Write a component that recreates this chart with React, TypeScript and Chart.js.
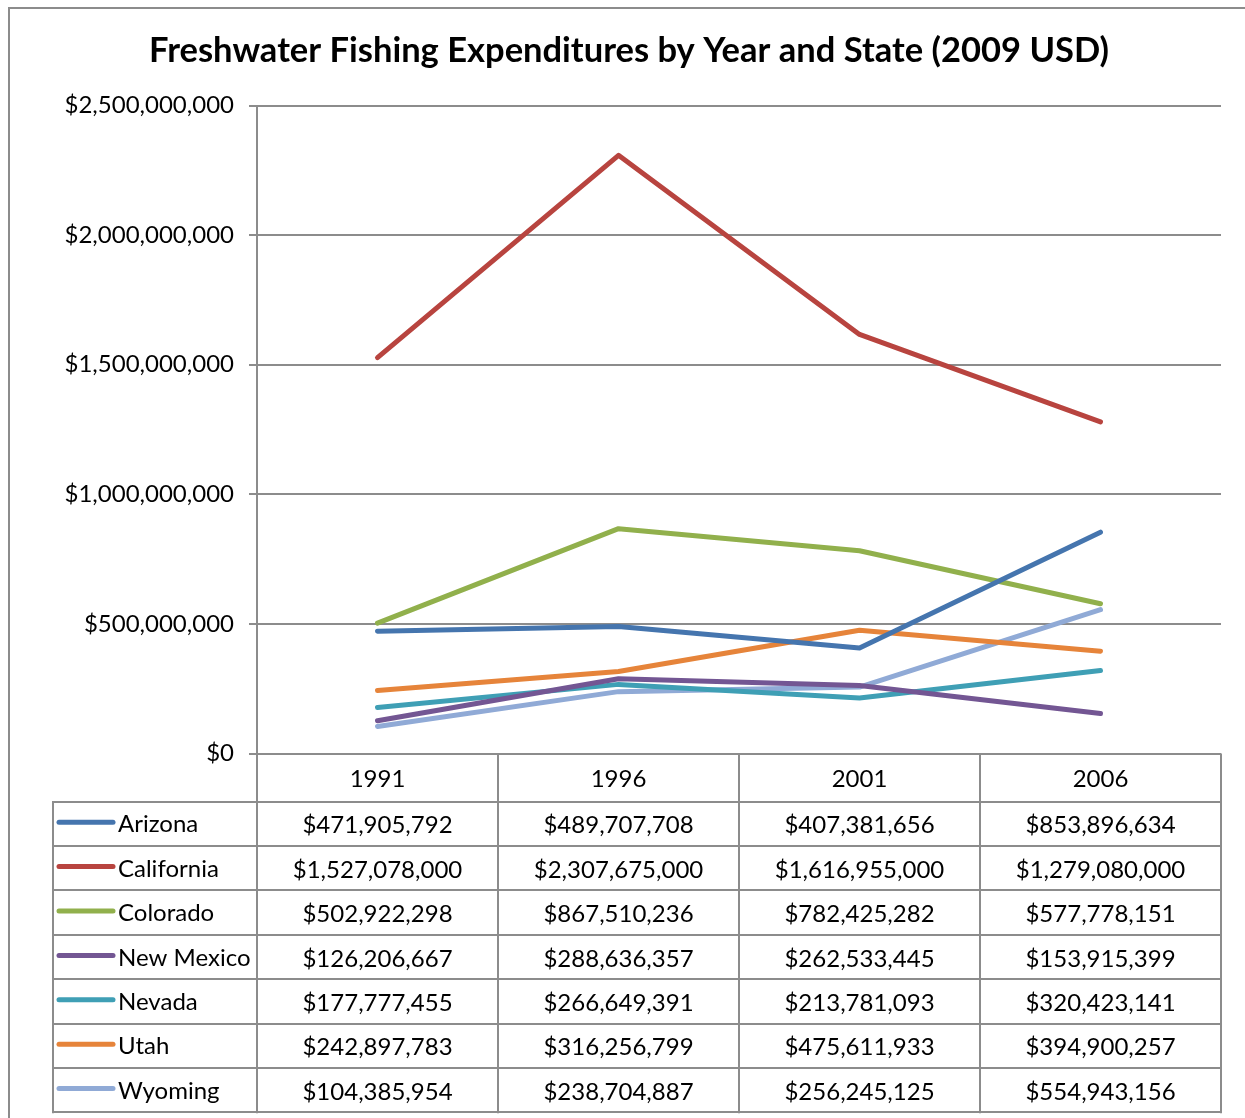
import React, { useEffect, useRef } from "react";
import { Chart, registerables } from "chart.js";

Chart.register(...registerables);

const TITLE = "Freshwater Fishing Expenditures by Year and State (2009 USD)";
const YEARS = ["1991", "1996", "2001", "2006"];
const STATES = ["Arizona", "California", "Colorado", "New Mexico", "Nevada", "Utah", "Wyoming"];
const ARIZONA = [471905792, 489707708, 407381656, 853896634];
const CALIFORNIA = [1527078000, 2307675000, 1616955000, 1279080000];
const COLORADO = [502922298, 867510236, 782425282, 577778151];
const NEW_MEXICO = [126206667, 288636357, 262533445, 153915399];
const NEVADA = [177777455, 266649391, 213781093, 320423141];
const UTAH = [242897783, 316256799, 475611933, 394900257];
const WYOMING = [104385954, 238704887, 256245125, 554943156];
const SERIES = [ARIZONA, CALIFORNIA, COLORADO, NEW_MEXICO, NEVADA, UTAH, WYOMING];
const COLORS = ["#4575AE", "#B8443F", "#91B04C", "#735693", "#3F9FB5", "#E6843A", "#90AAD6"];
const Y_MIN = 0;
const Y_MAX = 2500000000;
const Y_STEP = 500000000;

const FONT = "Lato, 'Open Sans', sans-serif";
const GRID = "#8c8c8c";
const W = 1245;
const H = 1118;

function money(v: number): string {
  const s = Math.round(v).toString();
  let out = "";
  for (let i = 0; i < s.length; i++) {
    if (i > 0 && (s.length - i) % 3 === 0) out += ",";
    out += s[i];
  }
  return "$" + out;
}

const tablePlugin = {
  id: "tableAndFrame",
  beforeDraw(chart: any) {
    const ctx = chart.ctx;
    ctx.save();
    ctx.fillStyle = "#ffffff";
    ctx.fillRect(0, 0, chart.width, chart.height);
    ctx.strokeStyle = GRID;
    ctx.lineWidth = 2;
    ctx.strokeRect(9, 8, chart.width + 40, chart.height + 40);
    ctx.restore();
  },
  afterDraw(chart: any) {
    const ctx = chart.ctx;
    const area = chart.chartArea;
    const xs = chart.scales.x;
    const n = YEARS.length;
    const colW = (area.right - area.left) / n;
    const headerH = 48;
    const rowH = 44.4;
    const legendLeft = 53;
    const headerBottom = area.bottom + headerH;
    const tableBottom = headerBottom + rowH * STATES.length;

    ctx.save();
    // title
    ctx.fillStyle = "#000";
    ctx.font = "bold 34.5px " + FONT;
    ctx.textAlign = "center";
    ctx.textBaseline = "alphabetic";
    ctx.fillText(TITLE, 629, 62);

    // table grid
    ctx.strokeStyle = GRID;
    ctx.lineWidth = 2;
    ctx.beginPath();
    for (let k = 0; k <= n; k++) {
      const x = Math.round(area.left + k * colW);
      ctx.moveTo(x, area.bottom);
      ctx.lineTo(x, tableBottom + 1);
    }
    ctx.moveTo(legendLeft, headerBottom);
    ctx.lineTo(legendLeft, tableBottom + 1);
    for (let r = 0; r <= STATES.length; r++) {
      const y = Math.round(headerBottom + r * rowH);
      ctx.moveTo(legendLeft - 1, y);
      ctx.lineTo(area.right + 1, y);
    }
    ctx.stroke();

    // header years
    ctx.fillStyle = "#000";
    ctx.font = "24px " + FONT;
    ctx.textAlign = "center";
    ctx.textBaseline = "middle";
    YEARS.forEach((yr, i) => {
      ctx.fillText(yr, xs.getPixelForValue(i), area.bottom + headerH / 2 + 2);
    });

    // rows
    STATES.forEach((st, r) => {
      const cy = headerBottom + r * rowH + rowH / 2;
      // legend key
      ctx.strokeStyle = COLORS[r];
      ctx.lineWidth = 5;
      ctx.lineCap = "round";
      ctx.beginPath();
      ctx.moveTo(59, cy - 1.5);
      ctx.lineTo(113, cy - 1.5);
      ctx.stroke();
      ctx.fillStyle = "#000";
      ctx.textAlign = "left";
      ctx.fillText(st, 118, cy + 1);
      ctx.textAlign = "center";
      SERIES[r].forEach((v, i) => {
        ctx.fillText(money(v), xs.getPixelForValue(i), cy + 2);
      });
    });
    ctx.restore();
  },
};

export default function App() {
  const ref = useRef<HTMLCanvasElement | null>(null);
  useEffect(() => {
    document.body.style.margin = "0";
    const canvas = ref.current;
    if (!canvas) return;
    const chart = new Chart(canvas, {
      type: "line",
      data: {
        labels: YEARS,
        datasets: STATES.map((s, i) => ({
          label: s,
          data: SERIES[i],
          borderColor: COLORS[i],
          backgroundColor: COLORS[i],
          borderWidth: 5,
          pointRadius: 0,
          pointHoverRadius: 0,
          tension: 0,
          borderCapStyle: "round" as const,
          borderJoinStyle: "round" as const,
          fill: false,
        })),
      },
      options: {
        responsive: false,
        animation: false,
        devicePixelRatio: 1,
        layout: { padding: { left: 0, right: W - 1221, top: 105.5, bottom: H - 753.5 } },
        plugins: {
          legend: { display: false },
          title: { display: false },
          tooltip: { enabled: false },
        },
        scales: {
          x: {
            type: "category",
            display: false,
            offset: true,
          },
          y: {
            min: Y_MIN,
            max: Y_MAX,
            afterFit: (scale: any) => {
              scale.width = 257;
            },
            ticks: {
              stepSize: Y_STEP,
              padding: 15,
              color: "#000",
              font: { family: FONT, size: 24 },
              callback: (v: any) => money(Number(v)),
            },
            grid: {
              color: GRID,
              lineWidth: 2,
              tickLength: 8,
              drawTicks: true,
            },
            border: { display: true, color: GRID, width: 2 },
          },
        },
      },
      plugins: [tablePlugin],
    });
    return () => chart.destroy();
  }, []);
  return <canvas ref={ref} width={W} height={H} style={{ display: "block" }} />;
}
